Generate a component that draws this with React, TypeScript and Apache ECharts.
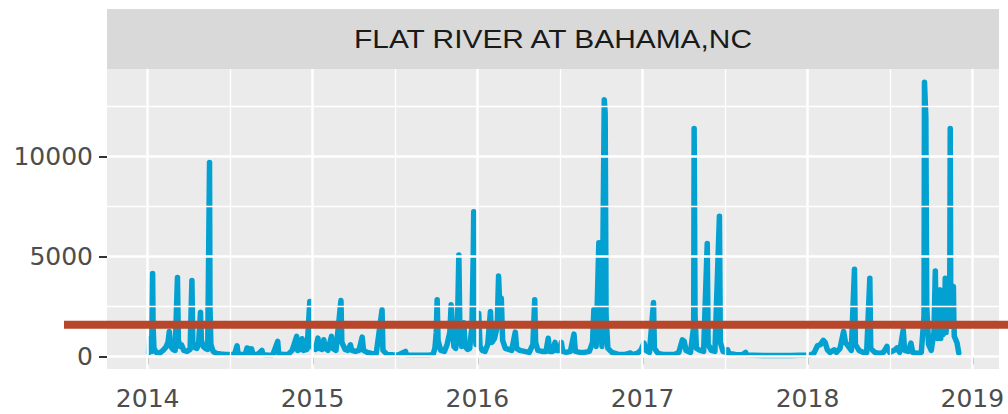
import React, { useEffect, useRef } from "react";
import * as echarts from "echarts";

const stationTitle = "FLAT RIVER AT BAHAMA,NC";

// Daily discharge readings (date, value)
const flowDates = [
  "2014-01-03","2014-01-05","2014-01-07","2014-01-10","2014-01-12","2014-01-13","2014-01-15","2014-01-20","2014-01-27",
  "2014-02-04","2014-02-10","2014-02-15","2014-02-18","2014-02-21","2014-02-26","2014-03-03","2014-03-08","2014-03-10",
  "2014-03-14","2014-03-17","2014-03-22","2014-03-29","2014-04-05","2014-04-09","2014-04-11","2014-04-15","2014-04-20",
  "2014-04-24","2014-04-28","2014-04-30","2014-05-04","2014-05-09","2014-05-14","2014-05-18","2014-05-19","2014-05-21",
  "2014-05-26","2014-06-02","2014-06-12","2014-06-22","2014-07-02","2014-07-12","2014-07-18","2014-07-20","2014-07-28",
  "2014-08-05","2014-08-09","2014-08-12","2014-08-15","2014-08-19","2014-08-22","2014-09-01","2014-09-11","2014-09-13",
  "2014-09-25","2014-10-05","2014-10-16","2014-10-18","2014-10-28","2014-11-08","2014-11-17","2014-11-27","2014-11-29",
  "2014-12-04","2014-12-09","2014-12-12","2014-12-20","2014-12-26","2014-12-28",
  "2015-01-03","2015-01-08","2015-01-13","2015-01-16","2015-01-22","2015-01-26","2015-01-29","2015-02-04","2015-02-12",
  "2015-02-15","2015-02-22","2015-03-05","2015-03-07","2015-03-14","2015-03-20","2015-03-26","2015-03-29","2015-04-06",
  "2015-04-14","2015-04-21","2015-04-24","2015-05-02","2015-05-12","2015-05-22","2015-06-04","2015-06-06","2015-06-15",
  "2015-06-28","2015-07-10","2015-07-26","2015-07-28","2015-08-15","2015-09-01","2015-09-15","2015-09-25","2015-09-29",
  "2015-10-02","2015-10-04","2015-10-06","2015-10-12","2015-10-20","2015-10-26","2015-11-01","2015-11-04","2015-11-07",
  "2015-11-10","2015-11-14","2015-11-18","2015-11-21","2015-11-23","2015-11-27","2015-12-02","2015-12-05","2015-12-10",
  "2015-12-15","2015-12-20","2015-12-23","2015-12-24","2015-12-26","2015-12-29",
  "2016-01-01","2016-01-04","2016-01-07","2016-01-12","2016-01-18","2016-01-24","2016-01-30","2016-02-02","2016-02-08",
  "2016-02-14","2016-02-17","2016-02-19","2016-02-23","2016-02-26","2016-03-03","2016-03-10","2016-03-17","2016-03-25",
  "2016-03-28","2016-04-04","2016-04-14","2016-04-25","2016-05-03","2016-05-07","2016-05-09","2016-05-14","2016-05-23",
  "2016-06-01","2016-06-06","2016-06-09","2016-06-16","2016-06-21","2016-06-24","2016-06-30","2016-07-05","2016-07-08",
  "2016-07-16","2016-07-25","2016-08-02","2016-08-05","2016-08-15","2016-08-25","2016-09-05","2016-09-12","2016-09-15",
  "2016-09-20","2016-09-26","2016-09-28","2016-10-03","2016-10-08","2016-10-10","2016-10-12","2016-10-16","2016-10-25",
  "2016-11-08","2016-11-22","2016-12-05","2016-12-08","2016-12-20","2016-12-28",
  "2017-01-04","2017-01-08","2017-01-16","2017-01-25","2017-01-27","2017-02-04","2017-02-15","2017-02-28","2017-03-12",
  "2017-03-22","2017-03-30","2017-04-03","2017-04-07","2017-04-17","2017-04-24","2017-04-25","2017-04-27","2017-04-30",
  "2017-05-08","2017-05-16","2017-05-24","2017-05-26","2017-06-02","2017-06-10","2017-06-20","2017-06-22","2017-06-28",
  "2017-07-05","2017-07-08","2017-07-11","2017-07-25","2017-08-10","2017-08-17","2017-08-19","2017-09-05","2017-09-25",
  "2017-10-15","2017-11-05","2017-11-25","2017-12-15",
  "2018-01-05","2018-01-15","2018-01-23","2018-01-30","2018-02-05","2018-02-09","2018-02-14","2018-02-20","2018-03-01",
  "2018-03-06","2018-03-14","2018-03-22","2018-03-26","2018-03-30","2018-04-08","2018-04-15","2018-04-17","2018-04-25",
  "2018-05-05","2018-05-12","2018-05-19","2018-05-21","2018-05-30","2018-06-10","2018-06-18","2018-06-26","2018-07-02",
  "2018-07-14","2018-07-18","2018-07-24","2018-08-01","2018-08-04","2018-08-12","2018-08-18","2018-08-22","2018-09-02",
  "2018-09-10","2018-09-16","2018-09-17","2018-09-20","2018-09-22","2018-09-26","2018-10-02","2018-10-08","2018-10-11",
  "2018-10-12","2018-10-13","2018-10-14","2018-10-15","2018-10-16","2018-10-17","2018-10-18","2018-10-19","2018-10-20",
  "2018-10-21","2018-10-22","2018-10-23","2018-10-24","2018-10-25","2018-10-26","2018-10-27","2018-10-28","2018-10-29",
  "2018-10-30","2018-10-31","2018-11-01","2018-11-02","2018-11-03","2018-11-04","2018-11-05","2018-11-06","2018-11-07",
  "2018-11-08","2018-11-09","2018-11-10","2018-11-11","2018-11-12","2018-11-13","2018-11-14","2018-11-15","2018-11-16",
  "2018-11-17","2018-11-18","2018-11-19","2018-11-20","2018-11-21","2018-11-22","2018-11-24","2018-11-28","2018-12-02"
];
const flowValues = [
  180, 900, 350, 250, 4150, 1500, 400, 200, 150,
  300, 450, 700, 1250, 500, 350, 300, 3940, 800,
  500, 580, 300, 250, 350, 3790, 700, 450, 400,
  700, 2210, 800, 500, 400, 350, 9690, 2500, 600,
  250, 150, 120, 100, 90, 80, 530, 150, 90,
  100, 420, 400, 150, 380, 120, 80, 300, 90,
  60, 70, 750, 150, 90, 100, 300, 1000, 300,
  350, 880, 300, 350, 2740, 600,
  400, 350, 915, 400, 350, 830, 400, 300, 1000,
  400, 300, 2790, 700, 350, 300, 580, 300, 250,
  300, 965, 300, 200, 150, 120, 2330, 300, 100,
  80, 70, 250, 70, 60, 55, 60, 100, 400,
  1200, 2830, 800, 300, 250, 600, 1200, 2580, 1500,
  500, 400, 1500, 5070, 1800, 500, 1680, 500, 350,
  400, 1500, 5200, 7230, 2000, 600,
  800, 2160, 500, 300, 250, 600, 2240, 700, 900,
  1500, 4020, 2900, 2910, 800, 400, 350, 300, 1215,
  400, 300, 250, 200, 600, 2830, 700, 300, 250,
  250, 910, 250, 250, 700, 300, 300, 700, 250,
  200, 250, 1115, 250, 200, 200, 250, 700, 2330,
  500, 5680, 2400, 500, 12830, 12130, 2000, 400, 200,
  100, 90, 170, 90, 150, 300,
  670, 300, 200, 2690, 400, 150, 100, 90, 100,
  200, 830, 750, 300, 200, 1500, 11390, 2000, 400,
  300, 250, 5650, 600, 300, 250, 7010, 700, 250,
  200, 330, 150, 100, 80, 200, 70, 60, 50,
  50, 45, 50, 55,
  60, 150, 530, 600, 800, 700, 330, 200, 330,
  200, 400, 1250, 700, 580, 300, 4360, 600, 300,
  200, 200, 3910, 400, 200, 150, 200, 500, 200,
  330, 420, 200, 1330, 300, 250, 670, 200, 150,
  200, 2000, 13710, 11960, 2500, 600, 300, 1200, 4270,
  2600, 1500, 3000, 2200, 900, 2400, 1300, 2800, 3320,
  1800, 3320, 900, 2500, 1400, 2700, 2000, 1100, 2900,
  1600, 3100, 2400, 3910, 2000, 1200, 2800, 3000, 1500,
  3300, 2200, 1500, 2600, 3600, 11390, 3660, 3200, 2000,
  3500, 1500, 3100, 3500, 1800, 1000, 900, 680, 170
];

const thresholdValue = [1580];
const yMajorTicks = [0, 5000, 10000];
const yMinorTicks = [2500, 7500, 12500];
const xMajorYears = [2014, 2015, 2016, 2017, 2018, 2019];
const xMinorYears = [2014, 2015, 2016, 2017, 2018];
const yLimits = [-630, 14370];
const xLimits = ["2013-10-03", "2019-03-01"];

const toTs = (s: string) => {
  const [y, m, d] = s.split("-").map(Number);
  return Date.UTC(y, m - 1, d);
};

export default function App() {
  const ref = useRef<HTMLDivElement>(null);

  useEffect(() => {
    if (!ref.current) return;
    const chart = echarts.init(ref.current, undefined, { renderer: "svg" });

    const gridLeft = 107;
    const gridRight = 9;
    const gridTop = 69;
    const gridBottom = 45;
    const W = 1008;

    const majorX = xMajorYears.map((y) => Date.UTC(y, 0, 1));
    const minorX = xMinorYears.map((y) => Date.UTC(y, 6, 2, 12));
    const flowData = flowDates.map((d, i) => [toTs(d), flowValues[i]]);
    const dummyPoint = [[toTs(xLimits[0]), yLimits[0]]];

    const axisFont = {
      fontFamily: "DejaVu Sans",
      fontSize: 25,
      color: "#4D4D4D",
    };

    chart.setOption({
      animation: false,
      backgroundColor: "#FFFFFF",
      grid: {
        left: gridLeft,
        right: gridRight,
        top: gridTop,
        bottom: gridBottom,
        show: true,
        backgroundColor: "#EBEBEB",
        borderWidth: 0,
      },
      xAxis: {
        type: "value",
        min: toTs(xLimits[0]),
        max: toTs(xLimits[1]),
        splitLine: { show: false },
        axisLine: { show: false },
        axisTick: {
          show: true,
          length: 8,
          customValues: majorX,
          lineStyle: { color: "#333333", width: 2 },
        },
        axisLabel: {
          ...axisFont,
          margin: 17,
          customValues: majorX,
          formatter: (v: number) => String(new Date(v).getUTCFullYear()),
        },
      },
      yAxis: {
        type: "value",
        min: yLimits[0],
        max: yLimits[1],
        splitLine: { show: false },
        axisLine: { show: false },
        axisTick: {
          show: true,
          length: 8,
          customValues: yMajorTicks,
          lineStyle: { color: "#333333", width: 2 },
        },
        axisLabel: {
          ...axisFont,
          margin: 14,
          customValues: yMajorTicks,
          formatter: (v: number) => String(v),
        },
      },
      series: [
        {
          type: "line",
          data: dummyPoint,
          showSymbol: false,
          lineStyle: { opacity: 0 },
          silent: true,
          z: 1,
          markLine: {
            silent: true,
            symbol: ["none", "none"],
            label: { show: false },
            lineStyle: { color: "#FFFFFF", width: 1.3, type: "solid" },
            data: [
              ...minorX.map((x) => ({ xAxis: x })),
              ...yMinorTicks.map((y) => ({ yAxis: y })),
            ],
          },
        },
        {
          type: "line",
          data: dummyPoint,
          showSymbol: false,
          lineStyle: { opacity: 0 },
          silent: true,
          z: 1,
          markLine: {
            silent: true,
            symbol: ["none", "none"],
            label: { show: false },
            lineStyle: { color: "#FFFFFF", width: 2.5, type: "solid" },
            data: [
              ...majorX.map((x) => ({ xAxis: x })),
              ...yMajorTicks.map((y) => ({ yAxis: y })),
            ],
          },
        },
        {
          type: "line",
          data: flowData,
          showSymbol: false,
          z: 3,
          lineStyle: { color: "#03A0D2", width: 5.5, cap: "round", join: "round" },
        },
      ],
    });

    const yThr = chart.convertToPixel({ yAxisIndex: 0 }, thresholdValue[0]) as number;
    const stripTop = 9;
    const stripH = gridTop - stripTop;
    const stripW = W - gridLeft - gridRight;

    chart.setOption({
      graphic: [
        {
          type: "rect",
          shape: { x: gridLeft, y: stripTop, width: stripW, height: stripH },
          style: { fill: "#D9D9D9" },
          silent: true,
        },
        {
          type: "text",
          x: gridLeft + stripW / 2,
          y: stripTop + stripH / 2,
          scaleX: 1.15,
          style: {
            text: stationTitle,
            fontFamily: "Liberation Sans",
            fontSize: 26,
            fill: "#1A1A1A",
            align: "center",
            verticalAlign: "middle",
          },
          silent: true,
        },
        {
          type: "line",
          shape: { x1: 64, y1: yThr, x2: W, y2: yThr },
          style: { stroke: "#B7462A", lineWidth: 8 },
          z: 100,
          silent: true,
        },
      ],
    });

    return () => chart.dispose();
  }, []);

  return (
    <div
      ref={ref}
      style={{ position: "fixed", left: 0, top: 0, width: 1008, height: 414 }}
    />
  );
}
